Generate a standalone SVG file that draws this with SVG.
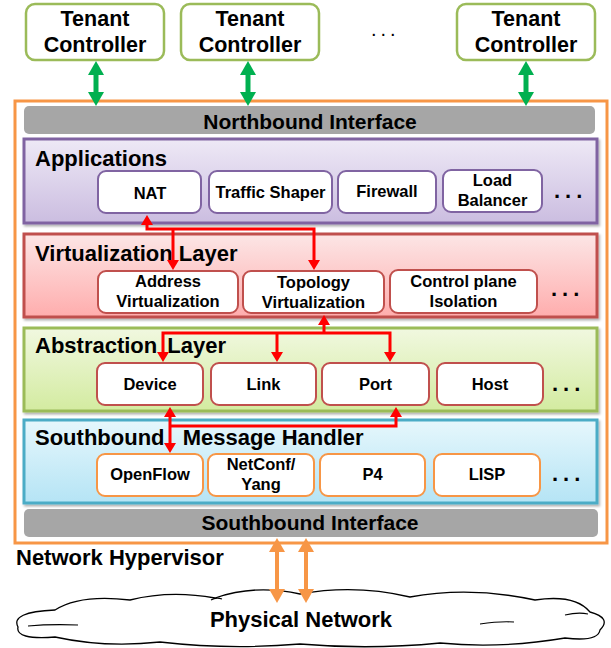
<svg xmlns="http://www.w3.org/2000/svg" width="611" height="648" viewBox="0 0 611 648">
<defs>
<linearGradient id="gApp" x1="0" y1="0" x2="0" y2="1"><stop offset="0" stop-color="#EEE9F6"/><stop offset="1" stop-color="#CBBDE0"/></linearGradient>
<linearGradient id="gVirt" x1="0" y1="0" x2="0" y2="1"><stop offset="0" stop-color="#FCE6E6"/><stop offset="1" stop-color="#FFADAD"/></linearGradient>
<linearGradient id="gAbs" x1="0" y1="0" x2="0" y2="1"><stop offset="0" stop-color="#F1F8E0"/><stop offset="1" stop-color="#D3EBA0"/></linearGradient>
<linearGradient id="gSb" x1="0" y1="0" x2="0" y2="1"><stop offset="0" stop-color="#E6F7FC"/><stop offset="1" stop-color="#B5E4F5"/></linearGradient>
<filter id="sh" x="-5%" y="-5%" width="110%" height="120%"><feDropShadow dx="1.5" dy="2" stdDeviation="1.2" flood-color="#000" flood-opacity="0.3"/></filter>
<marker id="ga" markerUnits="userSpaceOnUse" markerWidth="15" markerHeight="16" refX="6" refY="8" orient="auto-start-reverse"><path d="M0,0 L14,8 L0,16 z" fill="#00B050"/></marker>
<marker id="oa" markerUnits="userSpaceOnUse" markerWidth="15" markerHeight="16" refX="6" refY="8" orient="auto-start-reverse"><path d="M0,0 L14,8 L0,16 z" fill="#F79646"/></marker>
<marker id="ra" markerUnits="userSpaceOnUse" markerWidth="11" markerHeight="12" refX="5" refY="6" orient="auto-start-reverse"><path d="M0,0 L10,6 L0,12 z" fill="#FF0000"/></marker>
</defs>
<style>
text{font-family:"Liberation Sans",Arial,sans-serif;font-weight:bold;fill:#000}
.tc{fill:#fff;stroke:#9BBB59;stroke-width:2.5}
.t20{font-size:21.5px;text-anchor:middle}
.t22{font-size:22px}
.tb{font-size:21px;text-anchor:middle}
.ib{font-size:16.5px;text-anchor:middle}
.dots{font-size:22px;letter-spacing:5px}
.bar{fill:#A6A6A6}
.ib1{fill:#fff;stroke:#8064A2;stroke-width:2}
.ib2{fill:#fff;stroke:#C0504D;stroke-width:2}
.ib4{fill:#fff;stroke:#F79646;stroke-width:2}
.rc{fill:none;stroke:#FF0000;stroke-width:3}
</style>

<g id="tenant1"><rect class="tc" x="26" y="4" width="138" height="56" rx="9"/><text class="t20" x="95" y="26">Tenant</text><text class="t20" x="95" y="52">Controller</text></g>
<g id="tenant2"><rect class="tc" x="181" y="4" width="138" height="56" rx="9"/><text class="t20" x="250" y="26">Tenant</text><text class="t20" x="250" y="52">Controller</text></g>
<g id="tenant-dots"><text x="371" y="36" style="font-size:20px;letter-spacing:4px;font-weight:normal">...</text></g>
<g id="tenant3"><rect class="tc" x="457" y="4" width="138" height="56" rx="9"/><text class="t20" x="526" y="26">Tenant</text><text class="t20" x="526" y="52">Controller</text></g>

<g id="hypervisor"><rect x="15" y="101" width="592" height="442" fill="#fff" stroke="#F79646" stroke-width="3"/></g>

<g id="northbound"><rect class="bar" x="24" y="106" width="571" height="28" rx="5"/><text class="tb" x="310" y="129">Northbound Interface</text></g>

<g id="applications">
<rect x="24" y="139" width="573" height="84" fill="url(#gApp)" stroke="#8064A2" stroke-width="3" filter="url(#sh)"/>
<text class="t22" x="35" y="166">Applications</text>
<g id="nat"><rect class="ib1" x="98" y="171" width="103" height="42" rx="8"/><text class="ib" x="150" y="199">NAT</text></g>
<g id="traffic-shaper"><rect class="ib1" x="209" y="171" width="123" height="42" rx="8"/><text class="ib" x="270.5" y="198">Traffic Shaper</text></g>
<g id="firewall"><rect class="ib1" x="338" y="171" width="98" height="42" rx="8"/><text class="ib" x="387" y="197">Firewall</text></g>
<g id="load-balancer"><rect class="ib1" x="443" y="170" width="99" height="42" rx="8"/><text class="ib" x="492.5" y="186">Load</text><text class="ib" x="492.5" y="206">Balancer</text></g>
<text class="dots" x="554" y="198">...</text>
</g>

<g id="virtualization">
<rect x="24" y="234" width="573" height="83" fill="url(#gVirt)" stroke="#C0504D" stroke-width="3" filter="url(#sh)"/>
<text class="t22" x="35" y="261">Virtualization Layer</text>
<g id="address-virt"><rect class="ib2" x="98" y="271" width="140" height="42" rx="8"/><text class="ib" x="168" y="287">Address</text><text class="ib" x="168" y="307">Virtualization</text></g>
<g id="topology-virt"><rect class="ib2" x="243" y="271" width="141" height="42" rx="8"/><text class="ib" x="313.5" y="288">Topology</text><text class="ib" x="313.5" y="308">Virtualization</text></g>
<g id="control-plane"><rect class="ib2" x="390" y="270" width="147" height="43" rx="8"/><text class="ib" x="463.5" y="287">Control plane</text><text class="ib" x="463.5" y="307">Isolation</text></g>
<text class="dots" x="551" y="296">...</text>
</g>

<g id="abstraction">
<rect x="24" y="328" width="573" height="83" fill="url(#gAbs)" stroke="#9BBB59" stroke-width="3" filter="url(#sh)"/>
<text class="t22" x="35" y="353">Abstraction <tspan dx="4">Layer</tspan></text>
<g id="device"><rect class="ib2" x="97" y="363" width="106" height="42" rx="8"/><text class="ib" x="150" y="390">Device</text></g>
<g id="link"><rect class="ib2" x="211" y="363" width="105" height="42" rx="8"/><text class="ib" x="263.5" y="390">Link</text></g>
<g id="port"><rect class="ib2" x="322" y="363" width="107" height="42" rx="8"/><text class="ib" x="375.5" y="390">Port</text></g>
<g id="host"><rect class="ib2" x="437" y="363" width="106" height="42" rx="8"/><text class="ib" x="490" y="390">Host</text></g>
<text class="dots" x="552" y="391">...</text>
</g>

<g id="sb-message-handler">
<rect x="24" y="420" width="573" height="83" fill="url(#gSb)" stroke="#4BACC6" stroke-width="3" filter="url(#sh)"/>
<text class="t22" x="35" y="445">Southbound <tspan dx="12">Message Handler</tspan></text>
<g id="openflow"><rect class="ib4" x="97" y="454" width="106" height="42" rx="8"/><text class="ib" x="150" y="480">OpenFlow</text></g>
<g id="netconf"><rect class="ib4" x="208" y="454" width="106" height="42" rx="8"/><text class="ib" x="261" y="470">NetConf/</text><text class="ib" x="261" y="490">Yang</text></g>
<g id="p4"><rect class="ib4" x="320" y="454" width="105" height="42" rx="8"/><text class="ib" x="372.5" y="480">P4</text></g>
<g id="lisp"><rect class="ib4" x="434" y="454" width="106" height="42" rx="8"/><text class="ib" x="487" y="480">LISP</text></g>
<text class="dots" x="552" y="481">...</text>
</g>

<g id="southbound"><rect class="bar" x="24" y="509" width="574" height="28" rx="5"/><text class="tb" x="310" y="530">Southbound Interface</text></g>

<text class="t22" x="16" y="565" id="hypervisor-label">Network Hypervisor</text>

<g id="physical-network">
<path d="M18,627 Q10,612 55,610 Q80,594 130,600 Q170,590 215,598 Q255,584 300,594 Q355,584 410,597 Q470,586 535,600 Q575,594 590,612 Q612,618 600,630 Q598,642 565,638 Q500,649 440,643 Q370,650 300,644 Q230,650 160,642 Q105,648 55,637 Q15,640 18,627 Z" fill="#fff" stroke="#000" stroke-width="1.3"/>
<path d="M28,626 Q50,624 78,625" fill="none" stroke="#000" stroke-width="1.2"/>
<path d="M211,600 Q216,597 222,599" fill="none" stroke="#000" stroke-width="1.2"/>
<path d="M480,624 Q500,621 514,622" fill="none" stroke="#000" stroke-width="1.2"/>
<path d="M565,615 Q578,612 588,614" fill="none" stroke="#000" stroke-width="1.2"/>
<text x="301" y="627" style="font-size:22px;text-anchor:middle">Physical Network</text>
</g>

<g id="connectors">
<line x1="96" y1="69" x2="96" y2="98" stroke="#00B050" stroke-width="5" marker-start="url(#ga)" marker-end="url(#ga)"/>
<line x1="248" y1="69" x2="248" y2="98" stroke="#00B050" stroke-width="5" marker-start="url(#ga)" marker-end="url(#ga)"/>
<line x1="526" y1="69" x2="526" y2="98" stroke="#00B050" stroke-width="5" marker-start="url(#ga)" marker-end="url(#ga)"/>
<path class="rc" d="M314,265 V229 H147 V220" marker-start="url(#ra)" marker-end="url(#ra)"/>
<path class="rc" d="M173,229 V265" marker-end="url(#ra)"/>
<path class="rc" d="M324,333 V320" marker-end="url(#ra)"/>
<path class="rc" d="M163,357 V333 H390 V357" marker-start="url(#ra)" marker-end="url(#ra)"/>
<path class="rc" d="M277,333 V357" marker-end="url(#ra)"/>
<path class="rc" d="M170,412 V448" marker-start="url(#ra)" marker-end="url(#ra)"/>
<path class="rc" d="M170,426 H396 V412" marker-end="url(#ra)"/>
<line x1="277" y1="546" x2="277" y2="595" stroke="#F79646" stroke-width="4" marker-start="url(#oa)" marker-end="url(#oa)"/>
<line x1="306" y1="546" x2="306" y2="595" stroke="#F79646" stroke-width="4" marker-start="url(#oa)" marker-end="url(#oa)"/>
</g>
</svg>
